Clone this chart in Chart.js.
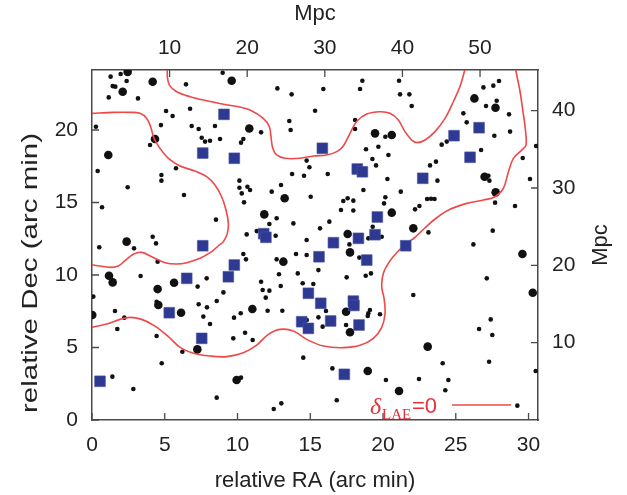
<!DOCTYPE html>
<html>
<head>
<meta charset="utf-8">
<script src="https://cdn.jsdelivr.net/npm/chart.js@4.4.1/dist/chart.umd.min.js"></script>
<style>
  body { margin: 0; background: #fff; }
  #wrap { width: 627px; height: 495px; }
</style>
</head>
<body>
<div id="wrap"><canvas id="chart"></canvas></div>
<script>
// tick labels
const raTicks = [0, 5, 10, 15, 20, 25, 30];
const decTicks = [0, 5, 10, 15, 20];
const mpcTopTicks = [10, 20, 30, 40, 50];
const mpcRightTicks = [10, 20, 30, 40];
const raMax = 30.65;
const decMax = 24.14;
const mpcPerArcmin = 1.875;

// faint galaxies [RA, Dec] in arc min
const faintGalaxies = [
  [1.28,23.68],[1.97,23.86],[2.38,23.38],[1.42,23.03],[1.60,22.99],[1.15,22.25],[3.16,22.18],[0.27,20.23],
  [5.09,21.31],[5.54,20.97],[6.74,21.47],[4.74,20.34],[6.85,20.28],[7.33,20.07],[8.45,20.28],[7.54,19.47],
  [7.77,19.20],[8.11,19.26],[8.80,19.38],[10.40,19.38],[10.24,19.13],[11.62,19.84],[13.56,20.62],[13.65,20.0],
  [8.98,23.95],[6.46,23.15],[12.74,22.87],[13.72,22.46],[3.99,18.97],[5.77,17.36],[4.77,16.9],[4.77,16.51],
  [0.39,17.17],[2.45,16.05],[6.32,15.52],[0.69,14.67],[8.52,13.82],[10.13,16.51],[10.13,16.02],[10.68,16.09],
  [10.86,15.86],[10.29,15.63],[10.45,15.01],[12.35,15.75],[12.99,16.21],[13.84,13.56],[12.69,13.91],[12.19,13.52],
  [10.63,12.8],[11.32,13.03],[12.62,12.71],[14.75,12.41],[4.17,12.64],[4.40,12.18],[13.75,16.97],
  [15.90,22.83],[18.58,23.40],[18.42,22.83],[21.10,23.40],[21.17,22.46],[21.81,22.46],[21.97,21.66],[15.33,21.33],
  [18.08,20.69],[18.08,20.07],[20.16,19.54],[18.83,18.67],[19.68,18.85],[19.27,18.0],[20.37,18.28],[19.52,17.56],
  [14.75,17.89],[14.94,17.43],[14.57,16.85],[16.20,16.97],[20.30,16.62],[18.65,15.86],[15.03,15.40],[21.22,15.75],
  [17.27,15.10],[17.57,15.29],[17.96,15.13],[20.16,15.36],[20.07,14.94],[17.11,14.48],[17.96,14.45],[22.50,14.76],
  [22.20,14.53],[23.03,15.24],[23.30,15.26],[23.54,15.24],[23.74,16.51],[23.23,17.56],[23.64,17.82],[24.03,18.99],
  [24.38,19.2],[25.52,21.15],[25.75,20.53],[26.9,22.94],[27.58,23.06],[27.97,23.38],[27.81,22.02],[27.08,21.66],
  [28.66,21.08],[28.73,19.89],[27.65,19.61],[26.74,18.62],[29.6,18.07],[30.52,18.9],[30.10,16.62],[27.24,16.85],
  [27.31,16.51],[27.70,14.99],[29.07,14.76],[27.54,13.06],[26.21,12.11],[23.12,12.94],[16.31,13.68],[15.67,13.22],
  [17.69,12.11],[19.29,13.33],[19.91,12.64],[18.99,12.53],
  [0.50,11.91],[2.89,11.84],[4.51,10.92],[10.40,11.45],[10.58,11.08],[12.69,11.08],[14.02,11.45],[14.75,11.38],
  [14.14,10.11],[12.85,10.05],[12.97,9.24],[14.48,9.43],[3.34,9.93],[7.88,9.77],[7.26,9.20],[9.03,8.80],
  [8.57,8.21],[7.33,7.98],[7.90,7.77],[4.44,8.16],[11.62,9.54],[11.73,8.97],[12.19,8.92],[11.94,8.44],
  [12.07,7.54],[13.08,7.54],[10.22,7.36],[9.76,7.06],[7.65,7.13],[8.11,6.62],[0.09,8.51],[1.58,7.52],
  [2.22,7.06],[1.74,6.28],[4.44,5.79],[9.71,5.63],[10.52,6.02],[11.04,5.52],[6.21,4.71],[4.79,3.91],
  [1.40,2.99],[2.84,2.14],[8.57,1.54],[10.24,2.92],[13.01,1.15],[12.49,0.76],[14.52,4.30],
  [15.7,11.38],[15.56,10.34],[17.5,9.84],[18.81,9.95],[19.17,10.11],[15.21,9.38],[18.37,11.2],[16.08,7.52],
  [15.56,7.08],[15.85,6.44],[17.46,6.55],[14.76,6.9],[18.99,7.36],[19.1,7.59],[18.95,7.17],[19.79,7.29],
  [22.08,8.62],[27.13,9.77],[27.4,6.94],[26.6,6.28],[27.51,5.86],[16.52,3.56],[24.1,3.91],[27.29,4.02],
  [22.47,2.83],[24.49,2.76],[20.2,2.76],[24.28,2.05],[16.82,1.36],[29.23,0.99],[30.49,3.38]
];

// bright galaxies
const brightGalaxies = [
  [2.45,24.0],[4.17,23.33],[9.60,23.4],[2.11,22.64],[10.81,20.11],[4.33,19.38],[1.12,18.28],[13.24,15.29],
  [11.84,14.18],[26.28,22.18],[27.73,21.54],[19.45,19.77],[20.6,19.66],[26.98,16.78],[27.74,15.7],[20.6,14.3],
  [22.08,13.22],[17.57,12.83],[2.38,12.30],[13.15,10.92],[1.17,9.95],[1.42,9.49],[4.51,9.03],[5.64,9.47],
  [4.56,7.93],[6.12,7.4],[11.02,7.66],[0.02,7.24],[7.24,4.87],[9.94,2.76],[17.73,11.56],[17.46,7.47],
  [17.73,6.05],[23.07,5.06],[18.95,3.38],[21.1,2.0],[29.58,11.45],[30.29,8.78]
];

// LAEs
const laes = [
  [9.07,21.08],[7.61,18.41],[9.78,18.05],[11.8,12.85],[11.95,12.6],[7.61,12.02],[15.83,18.74],[18.23,17.31],
  [18.58,17.12],[24.88,19.61],[26.6,20.16],[25.98,18.12],[22.73,16.67],[19.61,14.0],[19.45,12.78],[18.31,12.53],
  [16.59,12.23],[21.56,12.02],[9.78,10.69],[9.37,9.88],[6.51,9.77],[5.31,7.4],[7.54,5.63],[0.55,2.67],
  [14.87,8.74],[15.6,11.26],[18.88,11.03],[15.72,8.05],[17.96,8.2],[18.0,7.9],[16.4,6.83],[14.41,6.78],
  [14.87,6.32],[18.35,6.55],[17.34,3.15]
];

// delta_LAE = 0 contours
const contourWest = [
  [0,21.15],[1.47,21.22],[2.61,21.22],[3.30,21.15],[3.76,20.8],[4.03,20.23],[4.26,19.43],[4.67,18.74],
  [5.25,18.05],[6.05,17.52],[7.08,17.17],[7.88,16.78],[8.45,16.21],[8.91,15.40],[9.21,14.48],[9.37,13.56],
  [9.30,12.87],[9.03,12.30],[8.75,12.07],[8.22,11.61],[7.42,11.15],[6.51,10.85],[5.82,10.76],[5.02,10.85],
  [4.10,11.26],[3.41,11.56],[2.84,11.43],[2.27,10.99],[1.81,10.62],[1.24,10.53],[0.55,10.62],[0,10.71]
];
const contourNorth = [
  [5.18,24.4],[5.18,23.68],[5.32,23.10],[5.82,22.64],[6.74,22.30],[7.88,22.02],[9.03,21.78],[10.0,21.62],
  [10.86,21.38],[11.77,20.80],[12.19,20.23],[12.30,19.54],[12.42,18.74],[12.69,18.28],[13.26,18.05],[14.30,18.05],
  [15.21,18.21],[16.13,18.28],[16.82,18.51],[17.27,18.90],[17.73,19.77],[18.2,20.6],[18.88,21.10],[19.79,21.26],
  [20.48,21.15],[21.05,20.69],[21.51,19.89],[21.97,19.31],[22.36,19.13],[22.89,19.31],[23.57,19.89],[24.26,20.80],
  [24.83,21.95],[25.30,23.03],[25.69,24.4]
];
const contourSouth = [
  [0,6.39],[1.01,6.62],[1.92,6.94],[2.61,7.08],[3.41,6.94],[4.33,6.48],[5.25,5.75],[6.05,5.01],
  [6.96,4.60],[8.11,4.41],[9.26,4.37],[10.40,4.64],[11.32,5.17],[12.12,5.91],[12.92,6.25],[13.84,6.14],
  [14.75,5.56],[15.90,5.10],[17.27,4.99],[18.42,5.15],[19.34,5.63],[19.91,6.39],[20.14,7.36],[20.07,8.39],
  [19.91,9.20],[20.02,10.11],[20.44,10.92],[20.94,11.54],[21.63,12.18],[22.20,12.6],[22.89,13.26],[23.69,13.95],
  [24.60,14.53],[25.75,14.94],[26.90,15.17],[27.70,15.40],[28.27,15.98],[28.62,17.13],[28.96,18.05],[29.54,18.62],
  [29.83,18.97],[29.76,20.23],[29.60,21.38],[29.42,22.64],[29.19,23.79],[29.07,24.4]
];

const frameColor = "#4a4a4a";
const textColor = "#222";
const contourRed = "rgb(238,72,72)";
const laeBlue = "#2e3a92";

Chart.defaults.font.family = "'Liberation Sans', Arial, sans-serif";
Chart.defaults.color = textColor;

const toPoint = (p) => ({ x: p[0], y: p[1] });

function fixedTicks(list) {
  return function (scale) {
    scale.ticks = list.map((v) => ({ value: v }));
  };
}

function axisStyle(extra) {
  return Object.assign(
    {
      type: "linear",
      grid: { display: true, drawOnChartArea: false, drawTicks: false },
      border: { display: true, color: frameColor, width: 1.5 },
    },
    extra
  );
}

function contourDataset(points) {
  return {
    data: points.map(toPoint),
    showLine: true,
    tension: 0.35,
    pointRadius: 0,
    borderColor: contourRed,
    borderWidth: 1.6,
    fill: false,
    order: 1,
  };
}

// ticks pointing inward, rotated titles and the delta legend
const frameDecor = {
  id: "frameDecor",
  afterDraw(chart) {
    const { ctx, chartArea: a, scales } = chart;
    const len = 7;
    ctx.save();
    ctx.strokeStyle = frameColor;
    ctx.lineWidth = 1.3;
    ctx.beginPath();
    scales.x.ticks.forEach((t) => {
      const p = scales.x.getPixelForValue(t.value);
      ctx.moveTo(p, a.bottom);
      ctx.lineTo(p, a.bottom - len);
    });
    scales.x2.ticks.forEach((t) => {
      const p = scales.x2.getPixelForValue(t.value);
      ctx.moveTo(p, a.top);
      ctx.lineTo(p, a.top + len);
    });
    scales.y.ticks.forEach((t) => {
      const p = scales.y.getPixelForValue(t.value);
      ctx.moveTo(a.left, p);
      ctx.lineTo(a.left + len, p);
    });
    scales.y2.ticks.forEach((t) => {
      const p = scales.y2.getPixelForValue(t.value);
      ctx.moveTo(a.right, p);
      ctx.lineTo(a.right - len, p);
    });
    ctx.stroke();

    // left title, stretched like the original
    ctx.fillStyle = textColor;
    ctx.textAlign = "center";
    ctx.textBaseline = "middle";
    ctx.font = "22px 'Liberation Sans'";
    const leftText = "relative Dec (arc min)";
    const w = ctx.measureText(leftText).width;
    ctx.save();
    ctx.translate(31, 273);
    ctx.rotate(-Math.PI / 2);
    ctx.scale(280 / w, 1);
    ctx.fillText(leftText, 0, 0);
    ctx.restore();

    // right title
    ctx.save();
    ctx.font = "22px 'Liberation Sans'";
    ctx.translate(600.5, (a.top + a.bottom) / 2);
    ctx.rotate(-Math.PI / 2);
    ctx.fillText("Mpc", 0, 0);
    ctx.restore();

    // legend
    ctx.fillStyle = "#e8303a";
    ctx.textAlign = "left";
    ctx.textBaseline = "alphabetic";
    ctx.font = "italic 24px 'Liberation Serif'";
    ctx.fillText("δ", 370, 414);
    ctx.font = "15px 'Liberation Serif'";
    ctx.fillText("LAE", 382, 419);
    ctx.font = "22px 'Liberation Sans'";
    ctx.fillText("=0", 412, 413);
    ctx.strokeStyle = contourRed;
    ctx.lineWidth = 1.6;
    ctx.beginPath();
    ctx.moveTo(452, 405);
    ctx.lineTo(511, 405);
    ctx.stroke();
    ctx.restore();
  },
};

new Chart(document.getElementById("chart"), {
  type: "scatter",
  data: {
    datasets: [
      {
        data: laes.map(toPoint),
        pointStyle: "rect",
        pointRadius: 7.6,
        backgroundColor: laeBlue,
        borderColor: "#4854a4",
        borderWidth: 0.6,
        order: 0,
      },
      contourDataset(contourWest),
      contourDataset(contourNorth),
      contourDataset(contourSouth),
      {
        data: brightGalaxies.map(toPoint),
        pointRadius: 4.3,
        backgroundColor: "#111",
        borderWidth: 0,
        order: 2,
      },
      {
        data: faintGalaxies.map(toPoint),
        pointRadius: 2.3,
        backgroundColor: "#111",
        borderWidth: 0,
        order: 3,
      },
    ],
  },
  options: {
    responsive: true,
    maintainAspectRatio: false,
    animation: false,
    layout: { padding: 0 },
    plugins: { legend: { display: false }, tooltip: { enabled: false } },
    scales: {
      x: axisStyle({
        position: "bottom",
        min: 0,
        max: raMax,
        afterBuildTicks: fixedTicks(raTicks),
        afterFit: (s) => { s.height = 75; },
        ticks: { font: { size: 21 }, padding: 13, color: textColor },
        title: {
          display: true,
          text: "relative RA (arc min)",
          font: { size: 22 },
          color: textColor,
          padding: { top: 0, bottom: 1 },
        },
      }),
      x2: axisStyle({
        position: "top",
        min: 0,
        max: raMax * mpcPerArcmin,
        afterBuildTicks: fixedTicks(mpcTopTicks),
        afterFit: (s) => { s.height = 70; },
        ticks: { font: { size: 21 }, padding: 9, color: textColor },
        title: {
          display: true,
          text: "Mpc",
          font: { size: 22 },
          color: textColor,
          padding: { top: 1, bottom: 0 },
        },
      }),
      y: axisStyle({
        position: "left",
        min: 0,
        max: decMax,
        afterBuildTicks: fixedTicks(decTicks),
        afterFit: (s) => { s.width = 92; },
        ticks: { font: { size: 21 }, padding: 14, color: textColor },
      }),
      y2: axisStyle({
        position: "right",
        min: 0,
        max: decMax * mpcPerArcmin,
        afterBuildTicks: fixedTicks(mpcRightTicks),
        afterFit: (s) => { s.width = 89; },
        ticks: { font: { size: 21 }, padding: 14, color: textColor },
      }),
    },
  },
  plugins: [frameDecor],
});
</script>
</body>
</html>
